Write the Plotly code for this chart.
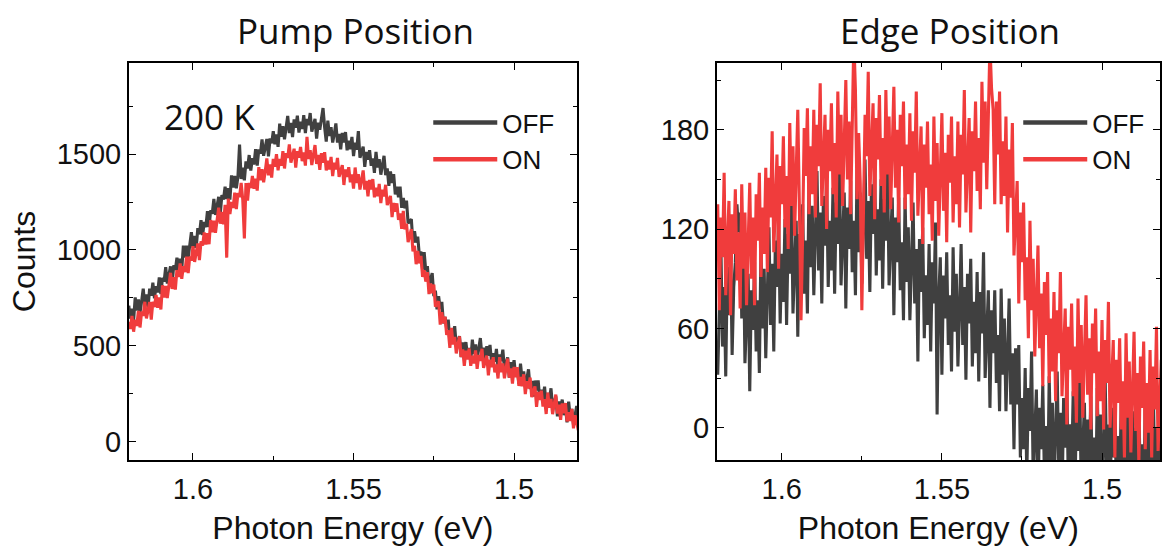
import plotly.graph_objects as go

# Photon energy grid (eV), high to low, 0.5 meV spacing
ENERGY_EV = [
    1.6200, 1.6195, 1.6190, 1.6185, 1.6180, 1.6175, 1.6170, 1.6165, 1.6160, 1.6155,
    1.6150, 1.6145, 1.6140, 1.6135, 1.6130, 1.6125, 1.6120, 1.6115, 1.6110, 1.6105,
    1.6100, 1.6095, 1.6090, 1.6085, 1.6080, 1.6075, 1.6070, 1.6065, 1.6060, 1.6055,
    1.6050, 1.6045, 1.6040, 1.6035, 1.6030, 1.6025, 1.6020, 1.6015, 1.6010, 1.6005,
    1.6000, 1.5995, 1.5990, 1.5985, 1.5980, 1.5975, 1.5970, 1.5965, 1.5960, 1.5955,
    1.5950, 1.5945, 1.5940, 1.5935, 1.5930, 1.5925, 1.5920, 1.5915, 1.5910, 1.5905,
    1.5900, 1.5895, 1.5890, 1.5885, 1.5880, 1.5875, 1.5870, 1.5865, 1.5860, 1.5855,
    1.5850, 1.5845, 1.5840, 1.5835, 1.5830, 1.5825, 1.5820, 1.5815, 1.5810, 1.5805,
    1.5800, 1.5795, 1.5790, 1.5785, 1.5780, 1.5775, 1.5770, 1.5765, 1.5760, 1.5755,
    1.5750, 1.5745, 1.5740, 1.5735, 1.5730, 1.5725, 1.5720, 1.5715, 1.5710, 1.5705,
    1.5700, 1.5695, 1.5690, 1.5685, 1.5680, 1.5675, 1.5670, 1.5665, 1.5660, 1.5655,
    1.5650, 1.5645, 1.5640, 1.5635, 1.5630, 1.5625, 1.5620, 1.5615, 1.5610, 1.5605,
    1.5600, 1.5595, 1.5590, 1.5585, 1.5580, 1.5575, 1.5570, 1.5565, 1.5560, 1.5555,
    1.5550, 1.5545, 1.5540, 1.5535, 1.5530, 1.5525, 1.5520, 1.5515, 1.5510, 1.5505,
    1.5500, 1.5495, 1.5490, 1.5485, 1.5480, 1.5475, 1.5470, 1.5465, 1.5460, 1.5455,
    1.5450, 1.5445, 1.5440, 1.5435, 1.5430, 1.5425, 1.5420, 1.5415, 1.5410, 1.5405,
    1.5400, 1.5395, 1.5390, 1.5385, 1.5380, 1.5375, 1.5370, 1.5365, 1.5360, 1.5355,
    1.5350, 1.5345, 1.5340, 1.5335, 1.5330, 1.5325, 1.5320, 1.5315, 1.5310, 1.5305,
    1.5300, 1.5295, 1.5290, 1.5285, 1.5280, 1.5275, 1.5270, 1.5265, 1.5260, 1.5255,
    1.5250, 1.5245, 1.5240, 1.5235, 1.5230, 1.5225, 1.5220, 1.5215, 1.5210, 1.5205,
    1.5200, 1.5195, 1.5190, 1.5185, 1.5180, 1.5175, 1.5170, 1.5165, 1.5160, 1.5155,
    1.5150, 1.5145, 1.5140, 1.5135, 1.5130, 1.5125, 1.5120, 1.5115, 1.5110, 1.5105,
    1.5100, 1.5095, 1.5090, 1.5085, 1.5080, 1.5075, 1.5070, 1.5065, 1.5060, 1.5055,
    1.5050, 1.5045, 1.5040, 1.5035, 1.5030, 1.5025, 1.5020, 1.5015, 1.5010, 1.5005,
    1.5000, 1.4995, 1.4990, 1.4985, 1.4980, 1.4975, 1.4970, 1.4965, 1.4960, 1.4955,
    1.4950, 1.4945, 1.4940, 1.4935, 1.4930, 1.4925, 1.4920, 1.4915, 1.4910, 1.4905,
    1.4900, 1.4895, 1.4890, 1.4885, 1.4880, 1.4875, 1.4870, 1.4865, 1.4860, 1.4855,
    1.4850, 1.4845, 1.4840, 1.4835, 1.4830, 1.4825, 1.4820, 1.4815, 1.4810, 1.4805,
    1.4800,
]

# Pump position spectra (counts), 200 K
PUMP_OFF = [
    710, 642, 694, 631, 753, 685, 742, 674, 731, 798,
    710, 768, 701, 799, 762, 830, 748, 811, 779, 857,
    770, 855, 835, 910, 825, 870, 915, 825, 920, 895,
    960, 897, 954, 896, 1023, 960, 1022, 959, 1021, 1093,
    1010, 1073, 1011, 1114, 1082, 1155, 1078, 1146, 1119, 1202,
    1120, 1207, 1189, 1266, 1183, 1230, 1277, 1189, 1286, 1263,
    1330, 1266, 1322, 1263, 1389, 1325, 1386, 1322, 1383, 1550,
    1370, 1429, 1363, 1462, 1426, 1495, 1414, 1478, 1447, 1526,
    1440, 1524, 1503, 1577, 1491, 1535, 1579, 1488, 1582, 1556,
    1620, 1551, 1602, 1538, 1659, 1590, 1646, 1577, 1633, 1699,
    1610, 1662, 1589, 1681, 1638, 1700, 1612, 1669, 1631, 1703,
    1610, 1683, 1651, 1714, 1617, 1650, 1683, 1581, 1664, 1627,
    1680, 1740, 1640, 1565, 1675, 1595, 1640, 1560, 1605, 1660,
    1560, 1605, 1525, 1610, 1560, 1615, 1520, 1570, 1525, 1590,
    1490, 1559, 1523, 1620, 1481, 1510, 1539, 1433, 1512, 1471,
    1520, 1439, 1478, 1402, 1511, 1430, 1474, 1393, 1437, 1491,
    1390, 1425, 1335, 1410, 1350, 1395, 1290, 1330, 1275, 1330,
    1220, 1271, 1217, 1258, 1139, 1150, 1161, 1037, 1098, 1039,
    1070, 971, 992, 898, 989, 890, 916, 817, 843, 879,
    760, 788, 691, 759, 692, 730, 618, 651, 589, 637,
    520, 586, 547, 603, 499, 525, 551, 442, 518, 474,
    520, 445, 489, 419, 533, 458, 507, 432, 481, 541,
    445, 491, 412, 498, 449, 505, 411, 462, 418, 484,
    385, 455, 420, 480, 380, 410, 440, 335, 415, 375,
    425, 342, 379, 301, 408, 325, 367, 284, 326, 378,
    275, 318, 236, 319, 267, 320, 223, 271, 224, 287,
    185, 255, 219, 279, 178, 208, 237, 132, 211, 171,
    220, 139, 177, 101, 209, 128, 171, 90, 133, 187,
    100,
]
PUMP_ON = [
    625, 588, 656, 574, 637, 605, 683, 596, 679, 657,
    730, 643, 686, 729, 637, 730, 703, 766, 699, 752,
    690, 816, 752, 813, 749, 810, 881, 797, 858, 794,
    895, 860, 930, 850, 915, 885, 965, 880, 965, 945,
    1020, 938, 986, 1034, 947, 1045, 1023, 1091, 1029, 1087,
    1030, 1156, 1092, 1153, 1089, 1150, 1221, 1137, 1198, 1134,
    1235, 960, 1268, 1187, 1251, 1220, 1299, 1213, 1297, 1276,
    1350, 1263, 1060, 1349, 1257, 1350, 1323, 1386, 1319, 1372,
    1310, 1432, 1364, 1421, 1353, 1410, 1477, 1389, 1446, 1378,
    1475, 1435, 1500, 1415, 1475, 1440, 1515, 1425, 1505, 1480,
    1550, 1456, 1492, 1528, 1429, 1515, 1481, 1537, 1463, 1509,
    1440, 1590, 1474, 1521, 1443, 1490, 1547, 1449, 1496, 1418,
    1505, 1455, 1510, 1415, 1465, 1420, 1485, 1385, 1455, 1420,
    1480, 1381, 1412, 1443, 1339, 1420, 1381, 1432, 1353, 1394,
    1320, 1430, 1350, 1395, 1315, 1360, 1415, 1315, 1360, 1280,
    1365, 1315, 1370, 1275, 1325, 1280, 1345, 1245, 1315, 1280,
    1340, 1234, 1258, 1282, 1171, 1245, 1199, 1243, 1157, 1191,
    1110, 1204, 1108, 1137, 1041, 1070, 1109, 993, 1022, 926,
    995, 930, 970, 860, 895, 835, 885, 770, 825, 775,
    820, 704, 718, 732, 611, 675, 619, 653, 557, 581,
    490, 594, 508, 547, 461, 500, 549, 443, 482, 396,
    475, 429, 487, 396, 449, 408, 476, 380, 453, 422,
    485, 386, 418, 449, 346, 428, 389, 441, 362, 404,
    330, 441, 363, 409, 331, 377, 434, 335, 382, 303,
    390, 337, 389, 291, 338, 290, 352, 249, 316, 278,
    335, 233, 261, 289, 182, 260, 218, 266, 184, 222,
    145, 256, 177, 223, 144, 190, 246, 147, 193, 114,
    200, 149, 202, 106, 154, 108, 171, 70, 138, 102,
    60,
]

# Edge position spectra (counts)
EDGE_OFF = [
    32, 68, 109, 49, 85, 31, 97, 68, 108, 44,
    85, 100, 135, 118, 130, 66, 115, 39, 69, 93,
    22, 83, 59, 100, 46, 77, 33, 109, 60, 96,
    42, 79, 121, 62, 99, 46, 113, 85, 126, 63,
    105, 76, 126, 62, 117, 93, 143, 69, 99, 125,
    55, 117, 93, 135, 81, 113, 69, 146, 97, 134,
    80, 115, 155, 95, 130, 75, 140, 110, 150, 85,
    125, 95, 145, 81, 136, 111, 161, 86, 117, 142,
    72, 133, 108, 149, 94, 125, 80, 156, 106, 142,
    87, 122, 162, 102, 137, 82, 147, 117, 157, 92,
    132, 101, 150, 84, 138, 113, 162, 86, 115, 139,
    68, 127, 100, 139, 83, 112, 65, 139, 88, 121,
    65, 98, 136, 75, 108, 40, 114, 82, 121, 54,
    92, 62, 111, 46, 100, 75, 124, 8, 78, 103,
    32, 92, 66, 106, 50, 80, 34, 109, 58, 93,
    37, 71, 111, 50, 85, 29, 93, 63, 102, 37,
    76, 45, 94, 28, 82, 57, 106, 30, 59, 83,
    12, 71, 45, 83, 27, 56, 10, 84, 32, 66,
    10, 41, 78, 14, 45, -13, 48, 14, 50, -18,
    18, -13, 36, -30, 24, -2, 46, -30, -1, 23,
    -48, 12, -13, 26, -29, 1, -44, 31, -20, 15,
    -40, -5, 34, -26, 9, -47, 18, -12, 28, -38,
    2, -28, 22, -44, 11, -14, 36, -39, -10, 15,
    -55, 5, -21, 19, -36, -6, -51, 24, -27, 8,
    -47, -12, 28, -33, 2, -53, 12, -18, 21, -44,
    -5, -35, 15, -50, 5, -20, 30, -45, -15, 10,
    -60, 0, -25, 15, -40, -10, -55, 20, -30, 5,
    -50, -15, 25, -35, 0, -55, 10, -20, 20, -45,
    -15,
]
EDGE_ON = [
    135, 71, 127, 103, 154, 80, 111, 137, 68, 129,
    105, 144, 89, 118, 72, 147, 96, 130, 74, 109,
    148, 90, 127, 74, 141, 113, 154, 91, 133, 105,
    157, 94, 151, 127, 179, 106, 138, 165, 96, 158,
    135, 176, 121, 152, 108, 184, 134, 170, 116, 151,
    192, 133, 65, 115, 181, 152, 193, 129, 170, 141,
    192, 127, 183, 158, 208, 134, 164, 189, 120, 180,
    155, 196, 141, 172, 127, 203, 153, 189, 134, 170,
    210, 150, 185, 129, 194, 235, 204, 138, 178, 148,
    71, 133, 189, 164, 215, 140, 170, 196, 126, 187,
    162, 201, 146, 175, 130, 204, 153, 188, 132, 167,
    206, 145, 180, 124, 189, 158, 197, 132, 171, 141,
    190, 125, 179, 154, 203, 128, 157, 182, 111, 171,
    145, 185, 129, 159, 113, 188, 137, 172, 116, 151,
    190, 131, 166, 112, 177, 148, 188, 124, 164, 135,
    185, 121, 177, 153, 204, 130, 161, 187, 118, 179,
    155, 197, 143, 175, 132, 209, 160, 197, 144, 180,
    232, 205, 192, 135, 197, 165, 203, 135, 173, 140,
    188, 118, 168, 139, 184, 104, 129, 149, 75, 130,
    100, 136, 77, 103, 54, 125, 71, 102, 43, 74,
    110, 48, 81, 25, 88, 56, 94, 27, 66, 34,
    82, 16, 71, 45, 94, 19, 48, 72, 2, 61,
    35, 75, 19, 49, 3, 78, 27, 62, 6, 41,
    80, 20, 54, -1, 63, 33, 72, 7, 46, 16,
    65, -1, 53, 27, 76, 0, 29, 53, -18, 41,
    15, 54, -1, 28, -18, 57, 6, 40, -15, 19,
    58, -2, 33, -22, 43, 12, 52, -13, 27, -3,
    47, -18, 37, 11, 61, -14, 16, 41, -30, 30,
    5,
]

for series in (PUMP_OFF, PUMP_ON, EDGE_OFF, EDGE_ON):
    assert len(series) == len(ENERGY_EV)

X_TICKS = [1.6, 1.55, 1.5]
X_TICK_TEXT = ["1.6", "1.55", "1.5"]
X_MINOR = [1.575, 1.525]
PUMP_Y_TICKS = [0, 500, 1000, 1500]
PUMP_Y_MINOR = [250, 750, 1250, 1750]
EDGE_Y_TICKS = [0, 60, 120, 180]
EDGE_Y_MINOR = [30, 90, 150, 210]

OFF_COLOR = "#404040"
ON_COLOR = "#F03C3C"
LINE_W = 3.1
LEGEND_LINE_W = 4.5

W, H = 1162, 546
SANS = "Liberation Sans"
TITLE_FONT = "Open Sans"
INK = "#111111"


def px_x(p):
    return p / W


def px_y(p):
    return 1 - p / H


fig = go.Figure()
for xa, ya, lg, off, on in (("x", "y", "legend", PUMP_OFF, PUMP_ON),
                            ("x2", "y2", "legend2", EDGE_OFF, EDGE_ON)):
    for name, vals, color in (("OFF", off, OFF_COLOR), ("ON", on, ON_COLOR)):
        fig.add_trace(go.Scatter(x=ENERGY_EV, y=vals, name=name, mode="lines",
                                 line=dict(color=color, width=LINE_W),
                                 xaxis=xa, yaxis=ya, showlegend=False))
    # legend keys drawn with a heavier stroke than the spectra
    for name, color in (("OFF", OFF_COLOR), ("ON", ON_COLOR)):
        fig.add_trace(go.Scatter(x=[None], y=[None], name=name, mode="lines",
                                 line=dict(color=color, width=LEGEND_LINE_W),
                                 xaxis=xa, yaxis=ya, legend=lg, showlegend=True,
                                 hoverinfo="skip"))

axis_common = dict(
    showline=True, linecolor="black", linewidth=1.5, mirror="ticks",
    ticks="inside", ticklen=7, tickwidth=1.3, tickcolor="black",
    showgrid=False, zeroline=False,
    tickfont=dict(family=SANS, size=29, color=INK),
)


def minor(vals):
    return dict(tickmode="array", tickvals=vals, ticks="inside", ticklen=4,
                tickwidth=1.2, tickcolor="black", showgrid=False)


x_title = dict(text="Photon Energy (eV)", standoff=15,
               font=dict(family=SANS, size=32, color=INK))

plot_top, plot_bottom = 63, 460
ydom = [px_y(plot_bottom), px_y(plot_top)]

legend_style = dict(xanchor="left", yanchor="top", bgcolor="rgba(0,0,0,0)",
                    itemwidth=64, tracegroupgap=0,
                    font=dict(family=SANS, size=26, color=INK))

fig.update_layout(
    width=W, height=H, autosize=False,
    margin=dict(l=0, r=0, t=0, b=0),
    paper_bgcolor="white", plot_bgcolor="white",
    showlegend=True,
    xaxis=dict(axis_common, domain=[px_x(129), px_x(578)], range=[1.62, 1.4804],
               anchor="y", tickmode="array", tickvals=X_TICKS, ticktext=X_TICK_TEXT,
               minor=minor(X_MINOR), ticklabelstandoff=2, title=x_title),
    yaxis=dict(axis_common, domain=ydom, range=[-95, 1975], anchor="x",
               tickmode="array", tickvals=PUMP_Y_TICKS, minor=minor(PUMP_Y_MINOR),
               title=dict(text="Counts", standoff=12,
                          font=dict(family=SANS, size=32, color=INK))),
    xaxis2=dict(axis_common, domain=[px_x(718), 1.0], range=[1.6203, 1.4819],
                anchor="y2", tickmode="array", tickvals=X_TICKS, ticktext=X_TICK_TEXT,
                minor=minor(X_MINOR), ticklabelstandoff=2, title=x_title),
    yaxis2=dict(axis_common, domain=ydom, range=[-19.5, 220.3], anchor="x2",
                tickmode="array", tickvals=EDGE_Y_TICKS, minor=minor(EDGE_Y_MINOR)),
    legend=dict(legend_style, x=px_x(429), y=px_y(99)),
    legend2=dict(legend_style, x=px_x(1020), y=px_y(99)),
    annotations=[
        dict(text="Pump Position", x=px_x(356), y=px_y(30), xref="paper", yref="paper",
             xanchor="center", yanchor="middle", showarrow=False,
             font=dict(family=TITLE_FONT, size=35, color=INK)),
        dict(text="Edge Position", x=px_x(952), y=px_y(30), xref="paper", yref="paper",
             xanchor="center", yanchor="middle", showarrow=False,
             font=dict(family=TITLE_FONT, size=35, color=INK)),
        dict(text="200 K", x=px_x(210), y=px_y(116), xref="paper", yref="paper",
             xanchor="center", yanchor="middle", showarrow=False,
             font=dict(family=TITLE_FONT, size=35, color=INK)),
    ],
)

fig.write_html("out.html")
